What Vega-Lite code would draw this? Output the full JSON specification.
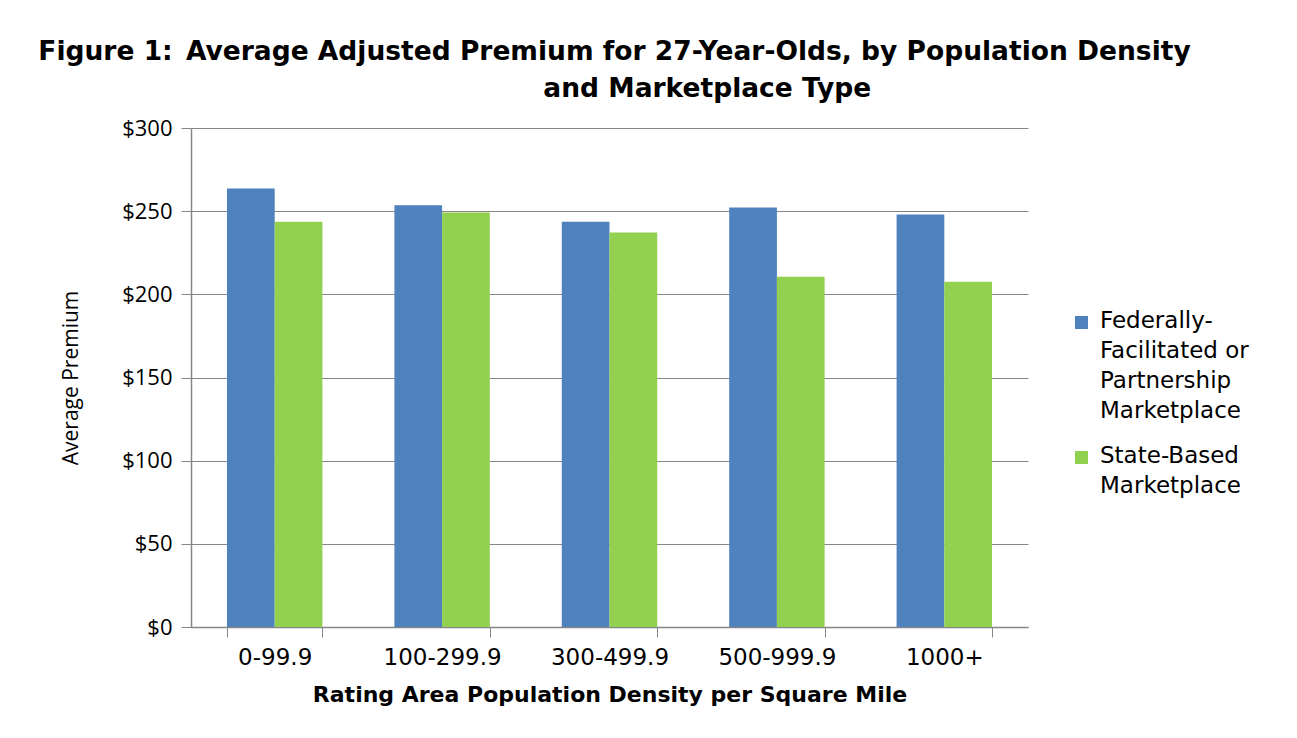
{
  "$schema": "https://vega.github.io/schema/vega-lite/v6.json",
  "autosize": {"type": "none"},
  "width": 837,
  "height": 499,
  "padding": {"left": 191, "top": 128, "right": 269, "bottom": 111},
  "background": "white",
  "title": {
    "text": ["Figure 1:\u2002Average Adjusted Premium for 27-Year-Olds, by Population Density", "\u200b\u2003\u2003\u2003\u2003\u2003\u2003\u2003and Marketplace Type"],
    "font": "DejaVu Sans",
    "fontSize": 26.5,
    "fontWeight": "bold",
    "color": "#000000",
    "anchor": "middle",
    "lineHeight": 37,
    "offset": 15,
    "dx": 5
  },
  "data": {
    "values": [
      {"density": "0-99.9", "type": "Federally-Facilitated or Partnership Marketplace", "premium": 263.6},
      {"density": "0-99.9", "type": "State-Based Marketplace", "premium": 243.6},
      {"density": "100-299.9", "type": "Federally-Facilitated or Partnership Marketplace", "premium": 253.6},
      {"density": "100-299.9", "type": "State-Based Marketplace", "premium": 249.2},
      {"density": "300-499.9", "type": "Federally-Facilitated or Partnership Marketplace", "premium": 243.6},
      {"density": "300-499.9", "type": "State-Based Marketplace", "premium": 237.2},
      {"density": "500-999.9", "type": "Federally-Facilitated or Partnership Marketplace", "premium": 252.2},
      {"density": "500-999.9", "type": "State-Based Marketplace", "premium": 210.5},
      {"density": "1000+", "type": "Federally-Facilitated or Partnership Marketplace", "premium": 248.0},
      {"density": "1000+", "type": "State-Based Marketplace", "premium": 207.5}
    ]
  },
  "mark": {"type": "bar"},
  "encoding": {
    "x": {
      "field": "density",
      "type": "nominal",
      "sort": ["0-99.9", "100-299.9", "300-499.9", "500-999.9", "1000+"],
      "scale": {"paddingInner": 0.43, "paddingOuter": 0.215},
      "axis": {
        "title": "Rating Area Population Density per Square Mile",
        "titleFont": "DejaVu Sans",
        "titleFontSize": 22,
        "titleFontWeight": "bold",
        "titleColor": "#000000",
        "titlePadding": 15,
        "labelFont": "DejaVu Sans",
        "labelFontSize": 23,
        "labelColor": "#000000",
        "labelAngle": 0,
        "labelPadding": 9,
        "tickBand": "extent",
        "tickSize": 10,
        "tickColor": "#868686",
        "domainColor": "#868686",
        "domainWidth": 1.5,
        "grid": false
      }
    },
    "xOffset": {
      "field": "type",
      "type": "nominal",
      "scale": {"paddingInner": 0, "paddingOuter": 0}
    },
    "y": {
      "field": "premium",
      "type": "quantitative",
      "scale": {"domain": [0, 300], "nice": false},
      "axis": {
        "title": "Average Premium",
        "titleFont": "Open Sans",
        "titleFontSize": 21,
        "titleFontWeight": "normal",
        "titleColor": "#000000",
        "titlePadding": 40,
        "values": [0, 50, 100, 150, 200, 250, 300],
        "format": "$,.0f",
        "labelFont": "Open Sans",
        "labelFontSize": 22,
        "labelColor": "#000000",
        "labelPadding": 9,
        "tickSize": 10,
        "tickColor": "#868686",
        "domainColor": "#868686",
        "domainWidth": 1.5,
        "grid": true,
        "gridColor": "#868686",
        "gridWidth": 1.2
      }
    },
    "color": {
      "field": "type",
      "type": "nominal",
      "scale": {
        "domain": ["Federally-Facilitated or Partnership Marketplace", "State-Based Marketplace"],
        "range": ["#4F81BD", "#92D050"]
      },
      "legend": {
        "title": null,
        "orient": "none",
        "legendX": 879,
        "legendY": 183,
        "padding": 0,
        "symbolType": "square",
        "symbolSize": 169,
        "symbolStrokeWidth": 0,
        "labelFont": "DejaVu Sans",
        "labelFontSize": 23,
        "labelColor": "#000000",
        "labelOffset": 7,
        "labelLimit": 300,
        "labelBaseline": "top",
        "rowPadding": 21,
        "labelExpr": "datum.label == 'State-Based Marketplace' ? ['State-Based', 'Marketplace'] : ['Federally-', 'Facilitated or', 'Partnership', 'Marketplace']",
        "encode": {"labels": {"update": {"lineHeight": {"value": 30}, "dy": {"value": -13}}}}
      }
    }
  },
  "config": {"view": {"stroke": null}}
}
